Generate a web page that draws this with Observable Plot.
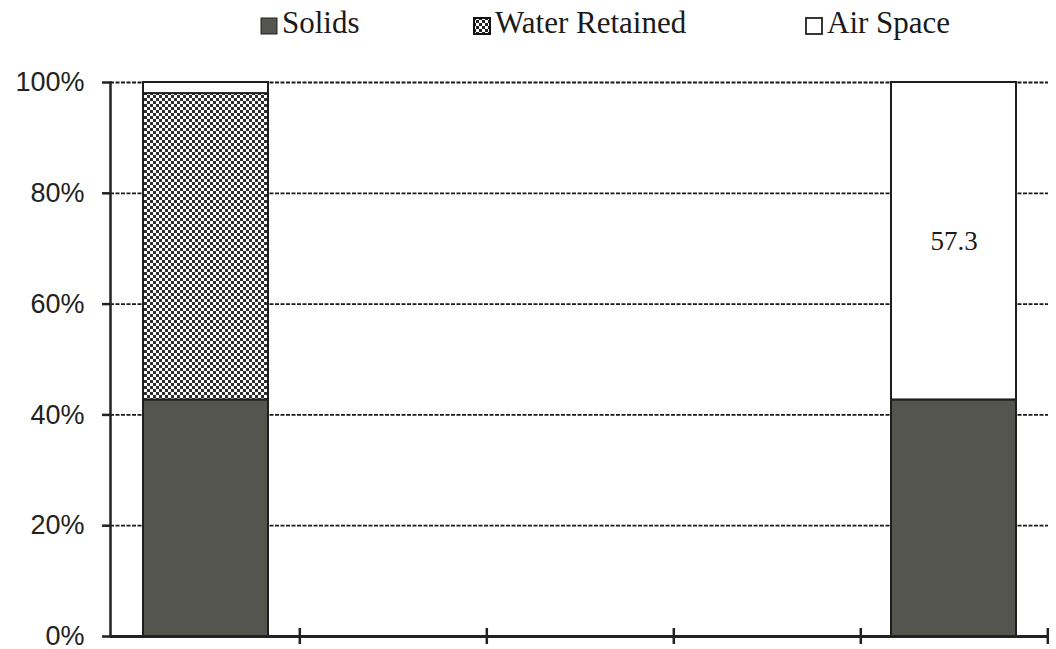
<!DOCTYPE html>
<html>
<head>
<meta charset="utf-8">
<script src="https://cdn.jsdelivr.net/npm/d3@7"></script>
<script src="https://cdn.jsdelivr.net/npm/@observablehq/plot@0.6"></script>
<style>
  html, body { margin: 0; padding: 0; background: #fff; }
  #wrap { position: relative; width: 1056px; height: 649px; }
  #legend { position: relative; height: 50px; width: 1056px; font-family: "Liberation Serif", "Times New Roman", serif; font-size: 31px; color: #1a1a1a; }
  .item { position: absolute; top: 7px; line-height: 31px; white-space: nowrap; display: flex; align-items: flex-end; }
  .item svg { margin-right: 4px; margin-bottom: 3px; }
</style>
</head>
<body>
<div id="wrap">
  <div id="legend"></div>
  <div id="chart"></div>
</div>
<script>
// ---- data ----
const categories = ["A", "B", "C", "D", "E"];
const seriesNames = ["Solids", "Water Retained", "Air Space"];
const solids = [42.7, 0, 0, 0, 42.7];
const waterRetained = [55.3, 0, 0, 0, 0];
const airSpace = [2.0, 0, 0, 0, 57.3];
const airLabels = [null, null, null, null, "57.3"];
const yTicks = [0, 20, 40, 60, 80, 100];
const gridTicks = [20, 40, 60, 80, 100];

// ---- styles ----
const solidColor = "#55554f";
const fills = [solidColor, "url(#checker)", "#ffffff"];

const rows = [];
categories.forEach((c, i) => {
  const vals = [solids[i], waterRetained[i], airSpace[i]];
  seriesNames.forEach((s, j) => {
    if (vals[j] > 0) rows.push({cat: c, series: s, value: vals[j], label: s === "Air Space" ? airLabels[i] : null});
  });
});

const W = 1056, H = 599, ML = 110, MR = 8, MT = 32, MB = 13;
const step = (W - ML - MR) / categories.length;

const chart = Plot.plot({
  width: W,
  height: H,
  marginLeft: ML,
  marginRight: MR,
  marginTop: MT,
  marginBottom: MB,
  style: {fontFamily: "'Liberation Sans', Arial, sans-serif", background: "#fff", overflow: "visible"},
  x: {type: "band", domain: categories, paddingInner: 1/3, paddingOuter: 1/6, axis: null},
  y: {domain: [0, 100], axis: null},
  color: {type: "ordinal", domain: seriesNames, range: fills},
  marks: [
    Plot.ruleY(gridTicks, {stroke: "#1a1a1a", strokeWidth: 1.8, strokeDasharray: "4,1.5"}),
    Plot.barY(rows, {x: "cat", y: "value", fill: "series", z: "series", order: seriesNames, stroke: "#1e1e1e", strokeWidth: 2}),
    Plot.text(rows, Plot.stackY({x: "cat", y: "value", z: "series", text: d => d.label ?? "", order: seriesNames, fontSize: 27, fontFamily: "'Liberation Serif', 'Times New Roman', serif", fill: "#1a1a1a"})),
    Plot.ruleY([0], {stroke: "#222", strokeWidth: 3}),
    Plot.frame({anchor: "left", stroke: "#222", strokeWidth: 2.5}),
    Plot.ruleX(categories, {x: d => d, dx: step / 2, y1: -1.45, y2: 1.45, stroke: "#222", strokeWidth: 2.5}),
    Plot.axisY({ticks: yTicks, tickFormat: d => d + "%", label: null, tickSize: 8, tickPadding: 18, fontSize: 27, stroke: "#222", strokeWidth: 2.5, fill: "#222"})
  ]
});

// pattern for "Water Retained"
const ns = "http://www.w3.org/2000/svg";
function addPattern(svg) {
  const defs = document.createElementNS(ns, "defs");
  defs.innerHTML = '<pattern id="checker" width="6" height="6" patternUnits="userSpaceOnUse">' +
    '<rect width="6" height="6" fill="#ffffff"/>' +
    '<rect x="0" y="0" width="3" height="3" fill="#2e2e2e"/>' +
    '<rect x="3" y="3" width="3" height="3" fill="#2e2e2e"/></pattern>';
  svg.insertBefore(defs, svg.firstChild);
}
addPattern(chart);
document.getElementById("chart").appendChild(chart);

// legend
const legendPos = [260, 473, 805];
const legend = document.getElementById("legend");
seriesNames.forEach((s, i) => {
  const item = document.createElement("div");
  item.className = "item";
  item.style.left = legendPos[i] + "px";
  const sw = i === 1
    ? '<svg width="18" height="18"><defs><pattern id="checkerL" width="6" height="6" patternUnits="userSpaceOnUse"><rect width="6" height="6" fill="#fff"/><rect width="3" height="3" fill="#222"/><rect x="3" y="3" width="3" height="3" fill="#222"/></pattern></defs><rect x="1" y="1" width="16" height="16" fill="url(#checkerL)" stroke="#111" stroke-width="2"/></svg>'
    : '<svg width="18" height="18"><rect x="1" y="1" width="16" height="16" fill="' + (i === 0 ? solidColor : "#fff") + '" stroke="#222" stroke-width="' + (i === 0 ? 1 : 1.8) + '"/></svg>';
  item.innerHTML = sw + '<span>' + s + '</span>';
  legend.appendChild(item);
});
</script>
</body>
</html>
